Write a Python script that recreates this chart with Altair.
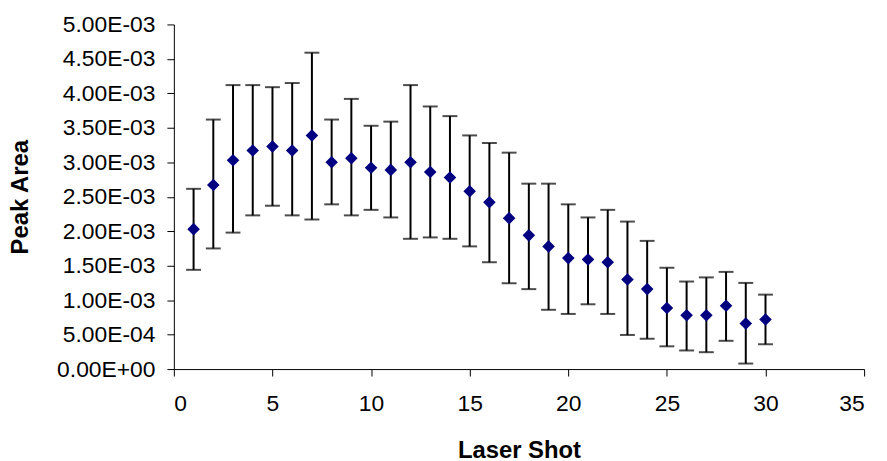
import altair as alt
import pandas as pd

# ---- data ----
shots = list(range(1, 31))
peak_area = [2.03e-3, 2.67e-3, 3.03e-3, 3.17e-3, 3.23e-3, 3.17e-3, 3.39e-3, 3.00e-3, 3.06e-3, 2.92e-3,
             2.89e-3, 3.00e-3, 2.86e-3, 2.78e-3, 2.58e-3, 2.42e-3, 2.19e-3, 1.94e-3, 1.78e-3, 1.61e-3,
             1.59e-3, 1.55e-3, 1.30e-3, 1.16e-3, 0.885e-3, 0.78e-3, 0.78e-3, 0.92e-3, 0.66e-3, 0.72e-3]
upper = [2.615e-3, 3.62e-3, 4.12e-3, 4.12e-3, 4.09e-3, 4.15e-3, 4.59e-3, 3.62e-3, 3.92e-3, 3.53e-3,
         3.59e-3, 4.12e-3, 3.81e-3, 3.67e-3, 3.39e-3, 3.28e-3, 3.14e-3, 2.69e-3, 2.69e-3, 2.39e-3,
         2.20e-3, 2.31e-3, 2.14e-3, 1.86e-3, 1.47e-3, 1.27e-3, 1.33e-3, 1.41e-3, 1.25e-3, 1.08e-3]
lower = [1.44e-3, 1.75e-3, 1.98e-3, 2.23e-3, 2.37e-3, 2.23e-3, 2.17e-3, 2.39e-3, 2.23e-3, 2.31e-3,
         2.20e-3, 1.89e-3, 1.91e-3, 1.89e-3, 1.78e-3, 1.55e-3, 1.245e-3, 1.16e-3, 0.86e-3, 0.80e-3,
         0.94e-3, 0.80e-3, 0.495e-3, 0.44e-3, 0.33e-3, 0.27e-3, 0.245e-3, 0.41e-3, 0.08e-3, 0.36e-3]

x_ticks = [0, 5, 10, 15, 20, 25, 30, 35]
y_ticks = [0, 0.0005, 0.001, 0.0015, 0.002, 0.0025, 0.003, 0.0035, 0.004, 0.0045, 0.005]
y_tick_labels = ["0.00E+00", "5.00E-04", "1.00E-03", "1.50E-03", "2.00E-03", "2.50E-03",
                 "3.00E-03", "3.50E-03", "4.00E-03", "4.50E-03", "5.00E-03"]

df = pd.DataFrame({"shot": shots, "area": peak_area, "lo": lower, "hi": upper})

FONT = "Liberation Sans"
label_expr = "[" + ",".join(f"'{s}'" for s in y_tick_labels) + "][round(datum.value / 0.0005)]"

x_enc = alt.X(
    "shot:Q",
    scale=alt.Scale(domain=[0, 35], nice=False, zero=False),
    axis=alt.Axis(values=x_ticks, title="Laser Shot", labelPadding=17,
                  titleY=82, titleBaseline="middle"),
)


def y_enc(field):
    return alt.Y(
        field,
        scale=alt.Scale(domain=[0, 0.005], nice=False),
        axis=alt.Axis(values=y_ticks, labelExpr=label_expr, title="Peak Area",
                      labelPadding=12, titleX=-154, titleY=173.5,
                      titleBaseline="middle", titleAngle=270),
    )


base = alt.Chart(df)

bars = base.mark_rule(color="black", strokeWidth=2).encode(
    x=x_enc, y=y_enc("lo:Q"), y2="hi:Q"
)
cap_hi = base.mark_tick(color="black", orient="horizontal", size=15, thickness=2).encode(
    x=x_enc, y=y_enc("hi:Q")
)
cap_lo = base.mark_tick(color="black", orient="horizontal", size=15, thickness=2).encode(
    x=x_enc, y=y_enc("lo:Q")
)
points = base.mark_point(shape="diamond", filled=True, color="#000080", size=160, opacity=1).encode(
    x=x_enc, y=y_enc("area:Q")
)

chart = (
    alt.layer(bars, cap_hi, cap_lo, points)
    .properties(width=695, height=347,
                autosize=alt.AutoSizeParams(type="none"),
                padding={"left": 167, "top": 15, "right": 15, "bottom": 91})
    .configure_view(stroke=None)
    .configure_axis(
        grid=False,
        labelFont=FONT, labelFontSize=23, labelColor="black",
        titleFont=FONT, titleFontSize=24, titleFontWeight="bold", titleColor="black",
        domainColor="black", domainWidth=1, tickColor="black", tickSize=7, tickWidth=1,
    )
)

chart.save("out.html", embed_options={"renderer": "svg", "actions": False})
